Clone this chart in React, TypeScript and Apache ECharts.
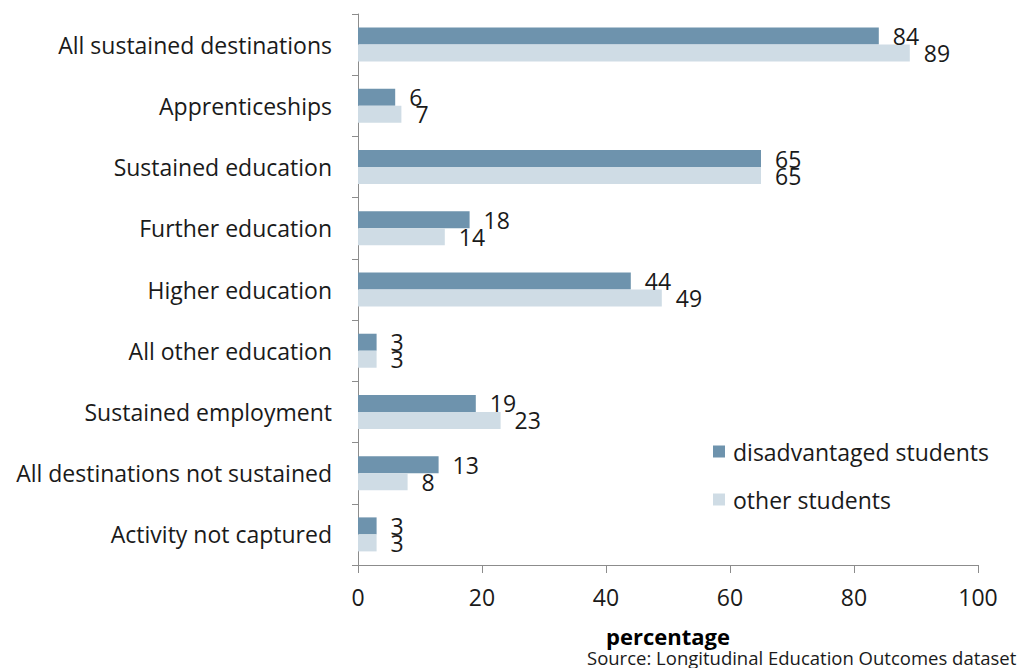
import React, { useEffect, useRef } from "react";
import * as echarts from "echarts";

const categories = [
  "All sustained destinations",
  "Apprenticeships",
  "Sustained education",
  "Further education",
  "Higher education",
  "All other education",
  "Sustained employment",
  "All destinations not sustained",
  "Activity not captured",
];
const disadvantaged = [84, 6, 65, 18, 44, 3, 19, 13, 3];
const other = [89, 7, 65, 14, 49, 3, 23, 8, 3];
const seriesNames = ["disadvantaged students", "other students"];
const xTicks = [0, 20, 40, 60, 80, 100];

const FONT = "'Open Sans', 'Noto Sans', sans-serif";

export default function App() {
  const ref = useRef<HTMLDivElement>(null);
  useEffect(() => {
    if (!ref.current) return;
    const chart = echarts.init(ref.current, undefined, { renderer: "svg" });
    const labelStyle = {
      show: true,
      position: "right" as const,
      distance: 14,
      fontSize: 23,
      fontFamily: FONT,
      color: "#1a1a1a",
    };
    chart.setOption({
      animation: false,
      backgroundColor: "#ffffff",
      grid: { left: 358, right: 46, top: 14, bottom: 103, containLabel: false },
      legend: {
        orient: "vertical",
        left: 708,
        top: 435,
        itemWidth: 12,
        itemHeight: 12,
        itemGap: 25,
        icon: "rect",
        textStyle: { fontSize: 23, fontFamily: FONT, color: "#1a1a1a", padding: [0, 0, 0, 3] },
        data: seriesNames,
      },
      xAxis: {
        type: "value",
        min: xTicks[0],
        max: xTicks[xTicks.length - 1],
        interval: 20,
        name: "percentage",
        nameLocation: "middle",
        nameGap: 60,
        nameTextStyle: { fontSize: 22, fontWeight: "bold", fontFamily: FONT, color: "#000" },
        axisLine: { show: true, lineStyle: { color: "#8c8c8c", width: 1 } },
        axisTick: { show: true, length: 8, lineStyle: { color: "#8c8c8c" } },
        axisLabel: { fontSize: 23, fontFamily: FONT, color: "#1a1a1a", margin: 20 },
        splitLine: { show: false },
      },
      yAxis: {
        type: "category",
        inverse: true,
        data: categories,
        axisLine: { show: true, lineStyle: { color: "#8c8c8c", width: 1 } },
        axisTick: { show: true, length: 6, lineStyle: { color: "#8c8c8c" } },
        axisLabel: { fontSize: 23, fontFamily: FONT, color: "#1a1a1a", margin: 26 },
      },
      series: [
        {
          name: seriesNames[0],
          type: "bar",
          data: disadvantaged,
          barWidth: 17,
          barGap: "0%",
          itemStyle: { color: "#6e93ad" },
          label: labelStyle,
        },
        {
          name: seriesNames[1],
          type: "bar",
          data: other,
          barWidth: 17,
          barGap: "0%",
          itemStyle: { color: "#cfdce5" },
          label: labelStyle,
        },
      ],
      graphic: [
        {
          type: "text",
          left: 587,
          top: 648,
          style: {
            text: "Source: Longitudinal Education Outcomes dataset",
            fontSize: 18.5,
            fontFamily: FONT,
            fill: "#1a1a1a",
          },
        },
      ],
    });
    return () => chart.dispose();
  }, []);
  return (
    <div
      ref={ref}
      style={{ position: "fixed", left: 0, top: 0, width: 1024, height: 668 }}
    />
  );
}
